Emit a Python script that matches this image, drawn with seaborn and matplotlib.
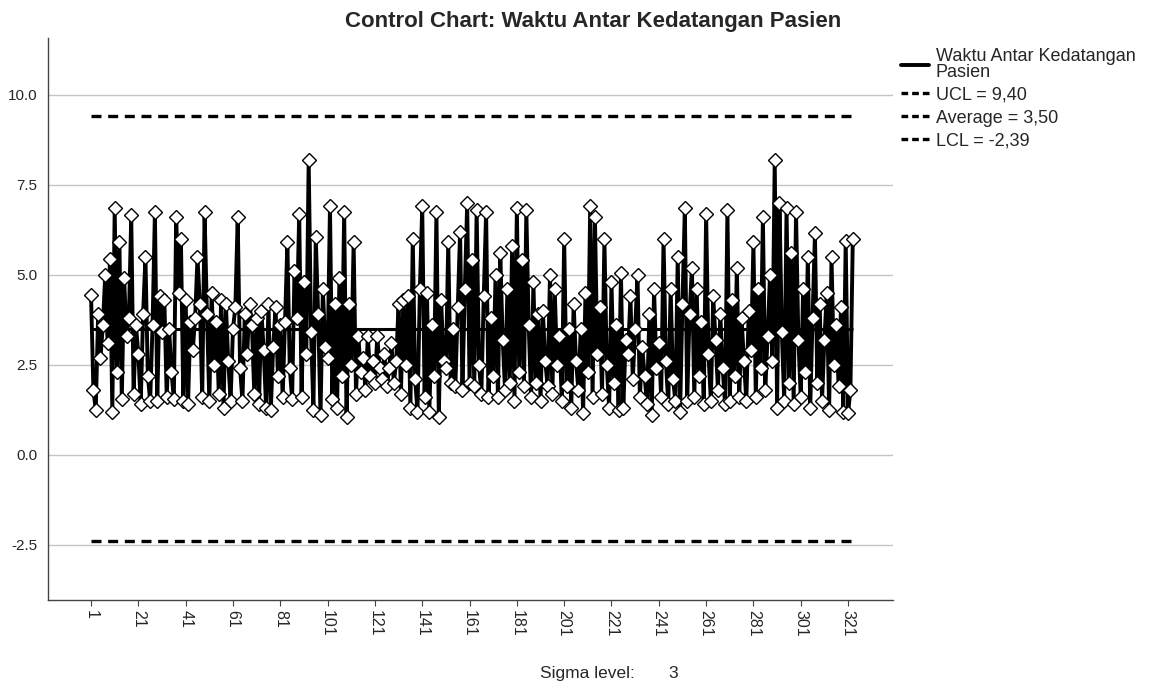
import numpy as np
import pandas as pd
import matplotlib
matplotlib.use("Agg")
import matplotlib.pyplot as plt
from matplotlib.lines import Line2D
import seaborn as sns

# Waktu antar kedatangan pasien (perkiraan)
waktu = [
    4.45, 1.8, 1.25, 3.9, 2.7, 3.6, 5.0, 3.1, 5.45, 1.2,
    6.85, 2.3, 5.9, 1.55, 4.9, 3.3, 3.8, 6.65, 1.7, 3.6,
    2.8, 1.4, 3.9, 5.5, 2.2, 1.5, 3.6, 6.75, 1.5, 4.4,
    3.4, 4.3, 1.6, 3.5, 2.3, 1.55, 6.6, 4.5, 6.0, 1.5,
    4.3, 1.4, 3.7, 2.9, 3.8, 5.5, 4.2, 1.6, 6.75, 3.9,
    1.5, 4.5, 2.5, 3.7, 1.7, 4.3, 1.3, 4.2, 2.6, 1.5,
    3.5, 4.1, 6.6, 2.4, 1.5, 3.9, 2.8, 4.2, 3.6, 1.7,
    3.8, 1.4, 4.0, 2.9, 1.3, 4.2, 1.25, 3.0, 4.1, 2.2,
    3.6, 1.6, 3.7, 5.9, 2.4, 1.55, 5.1, 3.8, 6.7, 1.6,
    4.8, 2.8, 8.2, 3.4, 1.25, 6.05, 3.9, 1.1, 4.6, 3.0,
    2.7, 6.9, 1.55, 4.2, 1.3, 4.9, 2.2, 6.75, 1.05, 4.2,
    2.5, 5.9, 1.7, 3.3, 2.3, 2.7, 1.8, 3.3, 2.2, 2.6,
    2.0, 3.3, 2.4, 2.1, 2.8, 1.9, 2.4, 3.1, 2.0, 2.6,
    4.2, 1.7, 4.3, 2.5, 4.4, 1.3, 6.0, 2.1, 1.2, 4.6,
    6.9, 1.6, 4.5, 1.2, 3.6, 2.2, 6.75, 1.05, 4.3, 2.6,
    2.4, 5.9, 2.0, 3.5, 1.9, 4.1, 6.2, 1.8, 4.6, 7.0,
    2.0, 5.4, 1.9, 6.8, 2.5, 1.7, 4.4, 6.75, 1.6, 3.8,
    2.2, 5.0, 1.6, 5.6, 3.2, 1.8, 4.6, 2.0, 5.8, 1.5,
    6.85, 2.3, 5.4, 1.9, 6.8, 3.6, 1.6, 4.8, 2.0, 3.9,
    1.5, 4.0, 2.6, 1.9, 5.0, 1.7, 4.6, 2.5, 3.3, 1.5,
    6.0, 1.9, 3.5, 1.3, 4.2, 2.6, 1.8, 3.5, 1.15, 4.5,
    2.3, 6.9, 1.6, 6.6, 2.8, 4.1, 1.7, 6.0, 2.5, 1.3,
    4.8, 2.0, 3.6, 1.25, 5.05, 1.3, 3.2, 2.8, 4.4, 2.1,
    3.5, 5.0, 1.6, 3.0, 2.2, 1.4, 3.9, 1.1, 4.6, 2.4,
    3.1, 1.6, 6.0, 2.6, 1.4, 4.6, 2.1, 1.5, 5.5, 1.2,
    4.2, 6.85, 1.5, 3.9, 5.2, 1.6, 4.6, 2.2, 3.7, 1.4,
    6.7, 2.8, 1.5, 4.4, 3.2, 1.8, 3.9, 2.4, 1.4, 6.8,
    1.5, 4.3, 2.2, 5.2, 1.6, 3.8, 2.6, 1.5, 4.0, 2.9,
    5.9, 1.6, 4.6, 2.4, 6.6, 1.8, 3.3, 5.0, 2.6, 8.2,
    1.3, 7.0, 3.4, 1.5, 6.85, 2.0, 5.6, 1.4, 6.75, 3.2,
    1.6, 4.6, 2.3, 5.5, 1.3, 3.8, 6.15, 2.0, 4.2, 1.5,
    3.2, 4.5, 1.25, 5.5, 2.5, 3.6, 1.9, 4.1, 1.2, 5.95,
    1.15, 1.8, 6.0,
]
ucl = 9.40
average = 3.50
lcl = -2.39
sigma_level = 3
x_ticks = list(range(1, 322, 20))
y_ticks = [-2.5, 0.0, 2.5, 5.0, 7.5, 10.0]

df = pd.DataFrame({"no": np.arange(1, len(waktu) + 1), "waktu": waktu})
n = len(waktu)

sns.set_style("white")
plt.rcParams["font.family"] = ["Liberation Sans", "DejaVu Sans"]

fig = plt.figure(figsize=(11.56, 6.86), dpi=100)
ax = fig.add_axes([0.0415, 0.1254, 0.731, 0.8192])

for yv in y_ticks:
    ax.axhline(yv, color="#c4c4c4", linewidth=1.0, zorder=0)

sns.lineplot(data=df, x="no", y="waktu", ax=ax, color="black", linewidth=2.8,
             marker="D", markersize=7, markerfacecolor="white",
             markeredgecolor="black", markeredgewidth=1.0, zorder=3)
ax.hlines(ucl, 1, n, color="black", linewidth=2.4, linestyles=(0, (3, 2)), zorder=2)
ax.hlines(lcl, 1, n, color="black", linewidth=2.4, linestyles=(0, (3, 2)), zorder=2)
ax.hlines(average, 1, n, color="black", linewidth=2.2, zorder=2)

ax.set_xlim(-17.2, 340)
ax.set_ylim(-4.03, 11.58)
ax.set_xticks(x_ticks)
ax.set_xticklabels([str(t) for t in x_ticks], rotation=-90, fontsize=11.5)
ax.set_yticks(y_ticks)
ax.set_yticklabels([f"{t:.1f}" for t in y_ticks], fontsize=11)
ax.tick_params(axis="both", length=4, color="#444444", direction="out", left=False, bottom=True)
ax.set_xlabel("")
ax.set_ylabel("")
for s in ["top", "right"]:
    ax.spines[s].set_visible(False)
for s in ["left", "bottom"]:
    ax.spines[s].set_color("#444444")
    ax.spines[s].set_linewidth(1.0)

fig.text(0.513, 0.968, "Control Chart: Waktu Antar Kedatangan Pasien",
         ha="center", va="center", fontsize=16, fontweight="bold")
fig.text(0.467, 0.018, "Sigma level:", ha="left", va="center", fontsize=12.5)
fig.text(0.578, 0.018, str(sigma_level), ha="left", va="center", fontsize=12.5)

handles = [
    Line2D([], [], color="black", linewidth=2.8),
    Line2D([], [], color="black", linewidth=2.4, dashes=(2, 1.2)),
    Line2D([], [], color="black", linewidth=2.4, dashes=(2, 1.2)),
    Line2D([], [], color="black", linewidth=2.4, dashes=(2, 1.2)),
]
labels = ["Waktu Antar Kedatangan\nPasien", "UCL = 9,40", "Average = 3,50", "LCL = -2,39"]
leg = fig.legend(handles, labels, loc="upper left", bbox_to_anchor=(0.772, 0.943),
                 frameon=False, fontsize=13, handlelength=1.5, handletextpad=0.4,
                 labelspacing=0.33, borderpad=0.0)
for t in leg.get_texts():
    t.set_linespacing(0.9)

fig.savefig("out.png", dpi=100)
